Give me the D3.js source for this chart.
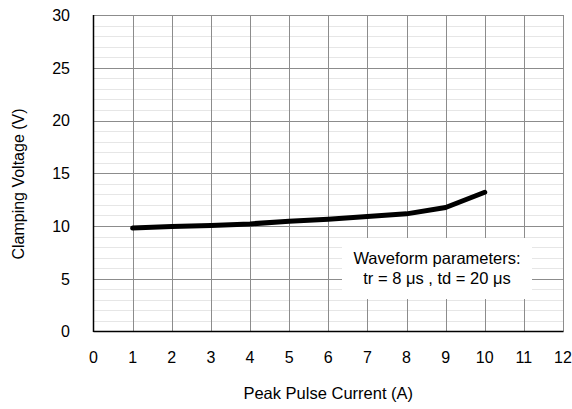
<!DOCTYPE html>
<html>
<head>
<meta charset="utf-8">
<script src="https://cdn.jsdelivr.net/npm/d3@7/dist/d3.min.js"></script>
<style>
  html, body { margin: 0; padding: 0; background: #fff; }
  svg text { font-family: "Liberation Sans", Arial, sans-serif; fill: #000; }
</style>
</head>
<body>
<svg id="chart" width="572" height="409"></svg>
<script>
// Data
const currents = [1, 2, 3, 4, 5, 6, 7, 8, 9, 10];
const voltages = [9.8, 9.95, 10.05, 10.2, 10.45, 10.65, 10.9, 11.15, 11.75, 13.2];
const xTicks = [0, 1, 2, 3, 4, 5, 6, 7, 8, 9, 10, 11, 12];
const yTicks = [0, 5, 10, 15, 20, 25, 30];
const yMinor = d3.range(0, 31, 1);
const xTitle = "Peak Pulse Current (A)";
const yTitle = "Clamping Voltage (V)";
const noteLines = ["Waveform parameters:", "tr = 8 μs , td = 20 μs"];

const svg = d3.select("#chart");
const L = 93.5, R = 563, T = 15, B = 331.5;
const x = d3.scaleLinear().domain([0, 12]).range([L, R]);
const y = d3.scaleLinear().domain([0, 30]).range([B, T]);

// minor horizontal grid
svg.append("g").selectAll("line").data(yMinor.filter(v => v % 5 !== 0)).join("line")
  .attr("x1", L).attr("x2", R)
  .attr("y1", d => Math.round(y(d)) + 0.5).attr("y2", d => Math.round(y(d)) + 0.5)
  .attr("stroke", "#e6e6e6").attr("stroke-width", 1);

// major horizontal grid
svg.append("g").selectAll("line").data(yTicks.filter(v => v > 0)).join("line")
  .attr("x1", L).attr("x2", R)
  .attr("y1", d => Math.round(y(d)) + 0.5).attr("y2", d => Math.round(y(d)) + 0.5)
  .attr("stroke", "#8c8c8c").attr("stroke-width", 1);

// vertical grid
svg.append("g").selectAll("line").data(xTicks.filter(v => v > 0)).join("line")
  .attr("x1", d => Math.round(x(d)) + 0.5).attr("x2", d => Math.round(x(d)) + 0.5)
  .attr("y1", T).attr("y2", B)
  .attr("stroke", "#8c8c8c").attr("stroke-width", 1);

// axes lines (left & bottom black)
svg.append("line").attr("x1", L).attr("x2", L).attr("y1", T).attr("y2", B + 0.5)
  .attr("stroke", "#000").attr("stroke-width", 1.5);
svg.append("line").attr("x1", L).attr("x2", R + 0.5).attr("y1", B).attr("y2", B)
  .attr("stroke", "#000").attr("stroke-width", 1.5);

// annotation box
const bx = 342, bw = 190, by = 238, bh = 61;
svg.append("rect").attr("x", bx).attr("y", by).attr("width", bw).attr("height", bh)
  .attr("fill", "#fff");
svg.append("g").selectAll("text").data(noteLines).join("text")
  .attr("x", bx + bw / 2).attr("y", (d, i) => 264 + i * 20)
  .attr("text-anchor", "middle").attr("font-size", 16.5).text(d => d);

// data line
const line = d3.line().x((d, i) => x(currents[i])).y(d => y(d));
svg.append("path").datum(voltages).attr("d", line)
  .attr("fill", "none").attr("stroke", "#000").attr("stroke-width", 5)
  .attr("stroke-linejoin", "round").attr("stroke-linecap", "round");

// Y tick labels
svg.append("g").selectAll("text").data(yTicks).join("text")
  .attr("x", 70).attr("y", d => y(d) + 5.8)
  .attr("text-anchor", "end").attr("font-size", 16).text(d => d);

// X tick labels
svg.append("g").selectAll("text").data(xTicks).join("text")
  .attr("x", d => x(d)).attr("y", 363)
  .attr("text-anchor", "middle").attr("font-size", 16).text(d => d);

// Axis titles
svg.append("text").attr("x", (L + R) / 2).attr("y", 399)
  .attr("text-anchor", "middle").attr("font-size", 16.5).text(xTitle);
svg.append("text").attr("transform", `translate(24, 184) rotate(-90)`)
  .attr("text-anchor", "middle").attr("font-size", 16).text(yTitle);
</script>
</body>
</html>
